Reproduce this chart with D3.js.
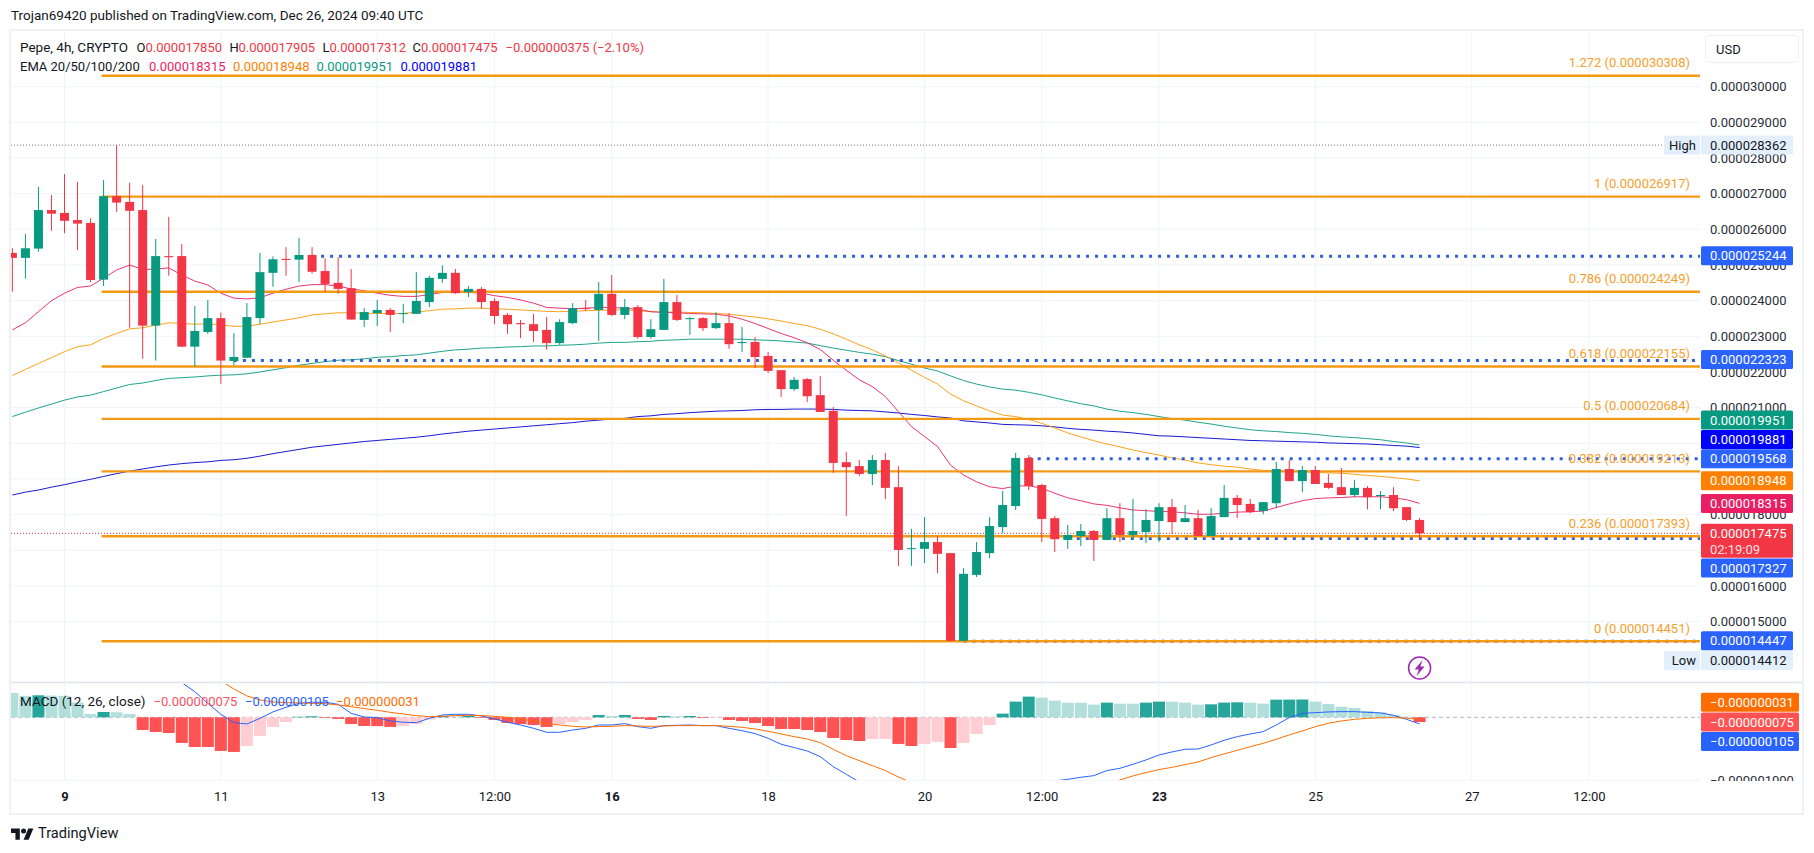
<!DOCTYPE html>
<html>
<head>
<meta charset="utf-8">
<title>Pepe 4h</title>
<script src="https://cdn.jsdelivr.net/npm/d3@7/dist/d3.min.js"></script>
<style>
  html, body { margin: 0; padding: 0; background: #fff; }
  svg { display: block; }
  text { font-family: Roboto, sans-serif; font-size: 13px; fill: #131722; }
</style>
</head>
<body>
<svg id="chart" width="1814" height="853"></svg>
<script>
// prices are in units of 0.000001, macd values in units of 0.000000001
const bars = d3.range(-4, 105);

const opens = [25.34,25.20,25.46,26.54,26.46,26.26,26.18,24.59,26.93,26.77,
  26.54,23.30,25.25,25.25,22.71,23.12,23.51,22.31,22.40,23.51,
  24.78,25.17,25.15,25.28,24.83,24.50,24.35,23.46,23.65,23.74,
  23.63,23.63,23.96,24.61,24.78,24.24,24.33,23.99,23.60,23.37,
  23.34,23.18,22.81,23.37,23.79,23.74,24.19,23.60,23.82,22.98,
  23.18,23.96,23.48,23.51,23.23,23.37,22.81,22.84,22.45,22.05,
  21.52,21.80,21.35,20.91,19.47,19.36,19.14,19.53,18.77,17.04,
  17.04,17.23,16.92,14.46,16.31,16.92,17.65,18.24,19.59,18.83,
  17.90,17.29,17.40,17.54,17.29,17.90,17.43,17.51,17.82,18.21,
  17.79,17.90,17.40,17.93,18.47,18.30,18.10,18.32,19.28,18.94,
  19.25,18.89,18.77,18.55,18.75,18.52,18.55,18.21,17.85];
const closes = [25.20,25.47,26.54,26.44,26.24,26.16,24.58,26.93,26.75,26.52,
  23.30,25.25,25.22,22.71,23.15,23.51,22.32,22.42,23.54,24.80,
  25.16,25.14,25.28,24.81,24.47,24.33,23.47,23.68,23.74,23.60,
  23.65,23.99,24.64,24.78,24.21,24.33,23.96,23.57,23.34,23.34,
  23.15,22.81,23.40,23.79,23.77,24.19,23.60,23.82,22.98,23.20,
  23.96,23.46,23.51,23.23,23.37,22.78,22.84,22.42,22.03,21.52,
  21.78,21.32,20.88,19.45,19.33,19.14,19.53,18.75,17.01,17.06,
  17.23,16.90,14.46,16.34,16.95,17.68,18.27,19.59,18.80,17.88,
  17.31,17.43,17.54,17.29,17.90,17.43,17.54,17.85,18.21,17.79,
  17.90,17.40,17.96,18.47,18.27,18.07,18.35,19.28,18.94,19.25,
  18.86,18.75,18.55,18.75,18.49,18.55,18.18,17.85,17.475];
const highs = [25.47,25.87,27.19,26.96,27.55,27.33,26.31,27.38,28.362,27.31,
  27.24,25.73,26.35,25.59,23.85,24.02,23.67,23.09,23.93,25.34,
  25.24,25.50,25.76,25.50,25.19,25.22,24.89,23.79,24.02,23.79,
  23.91,24.80,24.70,24.99,24.89,24.41,24.38,24.07,23.65,23.46,
  23.63,23.54,23.48,23.93,24.02,24.52,24.72,24.05,23.88,23.48,
  24.61,24.16,23.54,23.54,23.68,23.65,23.26,22.98,22.56,22.05,
  21.86,21.83,21.89,21.02,19.76,19.53,19.67,19.73,19.36,17.60,
  17.93,17.40,16.92,16.50,17.23,17.93,18.66,19.73,19.67,18.86,
  17.96,17.71,17.74,17.57,18.18,18.32,18.44,18.15,18.32,18.44,
  18.27,18.13,18.18,18.83,18.55,18.44,18.35,19.48,19.53,19.36,
  19.36,19.14,19.31,18.97,18.80,18.66,18.77,18.21,17.905];
const lows = [24.25,24.62,25.37,25.96,25.89,25.42,24.52,24.41,26.49,23.24,
  22.37,22.32,24.70,22.70,22.15,23.07,21.67,22.19,22.39,23.34,
  24.39,24.70,24.52,24.76,24.25,24.19,23.47,23.26,23.29,23.12,
  23.37,23.63,23.82,24.50,24.19,24.10,23.77,23.34,23.07,22.95,
  22.84,22.62,22.76,23.34,23.71,22.87,23.57,23.48,22.93,22.93,
  23.18,23.43,23.04,23.15,23.20,22.65,22.56,22.11,21.97,21.30,
  21.47,21.16,20.88,19.17,17.96,19.08,18.83,18.44,16.56,16.56,
  16.64,16.36,14.44,14.46,16.25,16.78,17.48,18.13,18.69,17.23,
  16.95,17.04,17.12,16.70,17.29,17.23,17.31,17.20,17.23,17.46,
  17.79,17.40,17.40,17.93,17.90,18.04,18.01,18.18,18.94,18.63,
  18.86,18.72,18.55,18.49,18.15,18.15,18.10,17.82,17.312];

const ema20 = [23.18,23.38,23.69,24.00,24.21,24.37,24.41,24.63,24.86,25.00,
  24.88,24.88,24.92,24.72,24.55,24.44,24.21,24.07,24.05,24.08,
  24.21,24.32,24.41,24.45,24.45,24.41,24.33,24.28,24.21,24.15,
  24.12,24.12,24.17,24.23,24.23,24.23,24.21,24.14,24.09,24.02,
  23.93,23.81,23.79,23.77,23.79,23.81,23.81,23.79,23.76,23.69,
  23.67,23.66,23.64,23.63,23.62,23.57,23.48,23.36,23.22,23.08,
  22.96,22.82,22.63,22.33,22.05,21.78,21.59,21.31,20.89,20.47,
  20.19,19.91,19.39,19.11,18.92,18.78,18.73,18.80,18.81,18.74,
  18.60,18.47,18.39,18.30,18.26,18.19,18.13,18.11,18.09,18.08,
  18.05,18.01,18.01,18.04,18.07,18.08,18.10,18.20,18.30,18.39,
  18.45,18.47,18.48,18.50,18.50,18.50,18.47,18.42,18.315];
const ema50 = [21.90,22.07,22.24,22.40,22.57,22.71,22.76,22.94,23.08,23.21,
  23.24,23.31,23.38,23.36,23.34,23.35,23.32,23.28,23.28,23.34,
  23.40,23.46,23.52,23.60,23.63,23.66,23.66,23.65,23.64,23.64,
  23.64,23.68,23.72,23.76,23.77,23.79,23.79,23.77,23.76,23.74,
  23.72,23.70,23.69,23.70,23.72,23.73,23.74,23.74,23.72,23.69,
  23.68,23.68,23.67,23.66,23.64,23.62,23.58,23.54,23.49,23.43,
  23.36,23.30,23.20,23.07,22.92,22.76,22.62,22.45,22.26,22.05,
  21.85,21.66,21.38,21.19,21.05,20.91,20.79,20.75,20.67,20.56,
  20.43,20.29,20.18,20.07,19.98,19.90,19.81,19.74,19.67,19.59,
  19.53,19.45,19.40,19.36,19.33,19.28,19.24,19.22,19.21,19.20,
  19.19,19.17,19.16,19.13,19.10,19.07,19.04,19.00,18.948];
const ema100 = [20.75,20.87,20.99,21.10,21.21,21.30,21.35,21.45,21.55,21.65,
  21.69,21.76,21.82,21.84,21.86,21.89,21.91,21.92,21.95,22.00,
  22.06,22.12,22.19,22.24,22.29,22.33,22.34,22.37,22.41,22.43,
  22.46,22.48,22.53,22.58,22.62,22.64,22.67,22.68,22.70,22.71,
  22.73,22.73,22.75,22.76,22.78,22.81,22.83,22.83,22.85,22.86,
  22.89,22.90,22.92,22.92,22.92,22.92,22.92,22.90,22.89,22.87,
  22.84,22.81,22.74,22.67,22.61,22.55,22.50,22.43,22.32,22.22,
  22.11,22.03,21.89,21.76,21.66,21.58,21.52,21.49,21.43,21.36,
  21.27,21.19,21.11,21.05,20.96,20.90,20.86,20.81,20.75,20.69,
  20.65,20.59,20.54,20.48,20.43,20.38,20.35,20.33,20.30,20.28,
  20.25,20.21,20.18,20.16,20.13,20.10,20.05,20.01,19.951];
const ema200 = [18.55,18.63,18.69,18.77,18.84,18.92,18.99,19.07,19.15,19.22,
  19.28,19.34,19.39,19.43,19.46,19.48,19.52,19.54,19.58,19.64,
  19.71,19.77,19.83,19.89,19.93,19.97,20.01,20.05,20.08,20.11,
  20.14,20.17,20.21,20.26,20.30,20.34,20.37,20.40,20.43,20.46,
  20.49,20.52,20.55,20.58,20.62,20.65,20.68,20.70,20.75,20.77,
  20.81,20.83,20.86,20.88,20.90,20.91,20.92,20.94,20.95,20.95,
  20.96,20.96,20.96,20.95,20.93,20.92,20.91,20.88,20.85,20.81,
  20.78,20.74,20.71,20.63,20.60,20.57,20.53,20.52,20.51,20.49,
  20.46,20.42,20.39,20.37,20.34,20.32,20.29,20.25,20.21,20.20,
  20.18,20.16,20.14,20.12,20.10,20.08,20.07,20.06,20.05,20.04,
  20.03,20.01,20.00,19.99,19.98,19.96,19.94,19.92,19.881];

const macdHist = [386,340,349,345,340,235,53,85,80,53,
  -201,-233,-249,-407,-471,-472,-534,-550,-455,-296,
  -153,-74,8,16,-10,-26,-106,-138,-140,-153,
  -138,-106,-37,21,11,26,-11,-42,-90,-106,
  -122,-153,-106,-74,-42,37,21,37,-26,-42,
  21,16,21,-11,-5,-42,-58,-90,-138,-185,
  -186,-201,-233,-328,-360,-376,-344,-343,-423,-455,
  -423,-391,-487,-407,-265,-122,58,249,328,312,
  265,233,232,201,233,217,216,233,249,248,
  233,201,206,233,238,233,217,280,281,282,
  249,212,169,148,100,79,37,10,-75];
const macdLine = [1600,1700,1800,1820,1760,1560,1420,1400,1300,1200,
  1000,850,700,550,407,222,48,-85,-106,-16,
  85,159,222,238,238,206,63,5,-5,-58,
  -79,-85,-16,37,48,48,21,-26,-79,-122,
  -175,-238,-238,-201,-175,-122,-122,-100,-148,-175,
  -132,-127,-122,-132,-132,-175,-212,-259,-333,-428,
  -481,-534,-624,-783,-905,-1026,-1140,-1250,-1370,-1490,
  -1560,-1620,-1820,-1810,-1700,-1560,-1370,-1150,-1030,-1047,
  -1010,-984,-952,-926,-846,-809,-746,-677,-598,-550,
  -508,-503,-439,-365,-307,-265,-227,-122,-5,63,
  74,85,90,90,79,69,32,-32,-105];
const signalLine = [1214,1351,1451,1475,1420,1325,1367,1315,1220,1147,
  1100,1020,950,860,780,699,577,450,339,275,
  243,233,227,222,217,196,169,138,111,79,
  53,26,11,16,26,32,26,16,0,-26,
  -58,-95,-122,-143,-153,-148,-143,-132,-138,-143,
  -138,-132,-132,-132,-132,-143,-159,-185,-222,-265,
  -307,-344,-402,-508,-608,-688,-767,-846,-947,-1037,
  -1130,-1230,-1335,-1400,-1430,-1440,-1430,-1400,-1350,-1310,
  -1260,-1215,-1165,-1110,-1055,-995,-931,-878,-830,-794,
  -751,-709,-640,-582,-524,-466,-413,-349,-280,-217,
  -148,-95,-58,-32,-16,-8,-5,-14,-31];

const fibRatios = ["1.272", "1", "0.786", "0.618", "0.5", "0.382", "0.236", "0"];
const fibPrices = [30.308, 26.917, 24.249, 22.155, 20.684, 19.213, 17.393, 14.451];
const fibStartBar = 3;

const dottedPrices = [25.244, 22.323, 19.568, 17.327, 14.447];
const dottedStartBars = [19, 13, 74, 77, 69];

const priceTicks = d3.range(15, 31);
// 17, 19 and 20 sit fully behind the badges, so they get a grid line but no label
const priceLabelTicks = [15, 16, 18, 21, 22, 23, 24, 25, 26, 27, 28, 29, 30];
const macdTicks = [0, -1000];
const timeTickBars = [0, 12, 24, 33, 42, 54, 66, 75, 84, 96, 108, 117];
const timeTickLabels = ["9", "11", "13", "12:00", "16", "18", "20", "12:00", "23", "25", "27", "12:00"];
const boldTimeLabels = ["9", "16", "23"];

const highPrice = 28.362, lowPrice = 14.412, lastPrice = 17.475;
const countdown = "02:19:09";

const UP = "#089981", DOWN = "#f23645", BLUE = "#2962ff", FIB = "#f39a14", GRID = "#f0f3fa";
const EMA_COLORS = ["#e91e63", "#ff9800", "#089981", "#0000d0"];

const left = 11, right = 1700, axisRight = 1793;
const svg = d3.select("#chart");

const x = d3.scaleLinear().domain([0, 104]).range([64.5, 1419.6]);
const y = d3.scaleLinear().domain([30, 15]).range([86.7, 621.6]);
const yMacd = d3.scaleLinear().domain([0, -1000]).range([717.3, 780.3]);

const priceText = v => (v / 1e6).toFixed(9);
const macdText = v => (v / 1e9).toFixed(9).replace("-", "\u2212");

const defs = svg.append("defs");
defs.append("clipPath").attr("id", "clipMain").append("rect")
  .attr("x", left).attr("y", 31).attr("width", right - left).attr("height", 651);
defs.append("clipPath").attr("id", "clipMacd").append("rect")
  .attr("x", left).attr("y", 684).attr("width", right - left).attr("height", 96);
defs.append("clipPath").attr("id", "clipMacdAxis").append("rect")
  .attr("x", right).attr("y", 684).attr("width", 102).attr("height", 97);

// frame
svg.append("rect").attr("x", 10).attr("y", 30).attr("width", 1793).attr("height", 784)
  .attr("fill", "none").attr("stroke", "#f0f1f4").attr("stroke-width", 2);
svg.append("line").attr("x1", 11).attr("x2", 1802).attr("y1", 682.5).attr("y2", 682.5)
  .attr("stroke", "#e0e3eb").attr("stroke-width", 1.5);

// grid
svg.append("g").selectAll("line").data(timeTickBars).join("line")
  .attr("x1", d => x(d)).attr("x2", d => x(d)).attr("y1", 31).attr("y2", 780)
  .attr("stroke", GRID);
svg.append("g").selectAll("line").data(priceTicks).join("line")
  .attr("x1", left).attr("x2", right).attr("y1", d => y(d)).attr("y2", d => y(d))
  .attr("stroke", GRID);
svg.append("line").attr("x1", left).attr("x2", right)
  .attr("y1", yMacd(-1000)).attr("y2", yMacd(-1000)).attr("stroke", GRID);

// EMAs go under the drawings
const main = svg.append("g").attr("clip-path", "url(#clipMain)");
const emaLine = d3.line().x((d, i) => x(bars[i])).y(d => y(d));
[ema200, ema100, ema50, ema20].forEach((series, i) => {
  main.append("path").attr("d", emaLine(series)).attr("fill", "none")
    .attr("stroke", EMA_COLORS[3 - i]).attr("stroke-opacity", 0.9).attr("stroke-width", 1);
});

// horizontal drawings
dottedPrices.forEach((p, i) => {
  main.append("line").attr("x1", x(dottedStartBars[i])).attr("x2", right)
    .attr("y1", y(p)).attr("y2", y(p))
    .attr("stroke", "#2f60dc").attr("stroke-width", 3).attr("stroke-dasharray", "3 6");
});
main.append("line").attr("x1", left).attr("x2", 1662).attr("y1", y(highPrice)).attr("y2", y(highPrice))
  .attr("stroke", "#787b86").attr("stroke-dasharray", "1 2");
main.append("line").attr("x1", left).attr("x2", right).attr("y1", y(lastPrice)).attr("y2", y(lastPrice))
  .attr("stroke", DOWN).attr("stroke-dasharray", "1 2");
fibPrices.forEach((p, i) => {
  main.append("line").attr("x1", x(fibStartBar) - 2).attr("x2", right)
    .attr("y1", y(p)).attr("y2", y(p)).attr("stroke", FIB).attr("stroke-width", 2.4);
  main.append("text").attr("x", 1690).attr("y", y(p) - 13).attr("dy", "0.35em")
    .attr("text-anchor", "end").style("fill", "#f5a02c")
    .text(`${fibRatios[i]} (${priceText(p)})`);
});

// candles
const candles = main.append("g").selectAll("g").data(bars).join("g")
  .each(function (d, i) {
    const col = closes[i] >= opens[i] ? UP : DOWN;
    const g = d3.select(this);
    g.append("line").attr("x1", x(d)).attr("x2", x(d))
      .attr("y1", y(highs[i])).attr("y2", y(lows[i])).attr("stroke", col);
    const top = y(Math.max(opens[i], closes[i]));
    const bot = y(Math.min(opens[i], closes[i]));
    g.append("rect").attr("x", x(d) - 4.5).attr("width", 9)
      .attr("y", top).attr("height", Math.max(bot - top, 1)).attr("fill", col);
  });

// price axis
const priceAxis = svg.append("g").attr("transform", `translate(${right},0)`)
  .call(d3.axisRight(y).tickValues(priceLabelTicks).tickFormat(priceText).tickSize(0).tickPadding(10));
priceAxis.select(".domain").remove();
priceAxis.selectAll("text").style("font-family", "Roboto, sans-serif").style("font-size", "13px").style("fill", "#2a2e39");

// badges on the price axis, nudged apart so they do not overlap
function badge(value, label, fill, textFill, nudge, width = axisRight - right - 1) {
  const cy = y(value) + nudge;
  svg.append("rect").attr("x", right + 1).attr("y", cy - 9.5).attr("width", width).attr("height", 19)
    .attr("rx", 1.5).attr("fill", fill);
  svg.append("text").attr("x", right + 10).attr("y", cy).attr("dy", "0.35em")
    .style("fill", textFill).text(label);
}
const tagFill = "#e3effd";
badge(highPrice, priceText(highPrice), tagFill, "#131722", 0);
badge(25.244, priceText(25.244), BLUE, "#fff", -0.5);
badge(22.323, priceText(22.323), BLUE, "#fff", -1);
badge(19.951, priceText(19.951), UP, "#fff", -25);
badge(19.881, priceText(19.881), "#0000ff", "#fff", -8);
badge(19.568, priceText(19.568), BLUE, "#fff", 0);
badge(18.948, priceText(18.948), "#ff7f00", "#fff", 0);
badge(18.315, priceText(18.315), "#e91e63", "#fff", 0);
badge(17.327, priceText(17.327), BLUE, "#fff", 29.5);
badge(14.447, priceText(14.447), BLUE, "#fff", -0.5);
badge(lowPrice, priceText(lowPrice), tagFill, "#131722", 18);

// last price tag has the countdown under it
const lastY = y(lastPrice);
svg.append("rect").attr("x", right + 1).attr("y", lastY - 9.5).attr("width", axisRight - right - 1).attr("height", 34)
  .attr("rx", 1.5).attr("fill", DOWN);
svg.append("text").attr("x", right + 10).attr("y", lastY + 0.5).attr("dy", "0.35em")
  .style("fill", "#fff").text(priceText(lastPrice));
svg.append("text").attr("x", right + 10).attr("y", lastY + 16).attr("dy", "0.35em")
  .style("fill", "#fff").style("opacity", 0.85).text(countdown);

// High / Low tags
function sideTag(value, label, nudge) {
  const cy = y(value) + nudge;
  svg.append("rect").attr("x", right - 36).attr("y", cy - 9.5).attr("width", 36).attr("height", 19).attr("fill", tagFill);
  svg.append("text").attr("x", right - 4).attr("y", cy).attr("dy", "0.35em").attr("text-anchor", "end").text(label);
}
sideTag(highPrice, "High", 0);
sideTag(lowPrice, "Low", 18);

// macd pane
const macdPane = svg.append("g").attr("clip-path", "url(#clipMacd)");
macdPane.append("line").attr("x1", left).attr("x2", right).attr("y1", yMacd(0)).attr("y2", yMacd(0))
  .attr("stroke", "#b2b5be").attr("stroke-dasharray", "4 3");
macdPane.append("g").selectAll("rect").data(macdHist).join("rect")
  .attr("x", (d, i) => x(bars[i]) - 6).attr("width", 12)
  .attr("y", d => Math.min(yMacd(d), yMacd(0)))
  .attr("height", d => Math.abs(yMacd(d) - yMacd(0)))
  .attr("fill", (d, i) => {
    const rising = i > 0 && d > macdHist[i - 1];
    if (d >= 0) return rising ? "#26a69a" : "#b2dfdb";
    return rising ? "#ffcdd2" : "#ff5252";
  });
const macdPath = d3.line().x((d, i) => x(bars[i])).y(d => yMacd(d));
macdPane.append("path").attr("d", macdPath(macdLine)).attr("fill", "none").attr("stroke", BLUE).attr("stroke-width", 1);
macdPane.append("path").attr("d", macdPath(signalLine)).attr("fill", "none").attr("stroke", "#ff6d00").attr("stroke-width", 1);

// the clip sits on an untranslated group so its rect stays in page coordinates
const macdAxis = svg.append("g").attr("clip-path", "url(#clipMacdAxis)")
  .append("g").attr("transform", `translate(${right},0)`)
  .call(d3.axisRight(yMacd).tickValues(macdTicks).tickFormat(macdText).tickSize(0).tickPadding(10));
macdAxis.select(".domain").remove();
macdAxis.selectAll("text").style("font-family", "Roboto, sans-serif").style("font-size", "13px").style("fill", "#2a2e39");

function macdBadge(value, fill, nudge) {
  const cy = yMacd(value) + nudge;
  svg.append("rect").attr("x", right + 1).attr("y", cy - 9.5).attr("width", 98).attr("height", 19)
    .attr("rx", 1.5).attr("fill", fill);
  svg.append("text").attr("x", right + 10).attr("y", cy).attr("dy", "0.35em").style("fill", "#fff").text(macdText(value));
}
macdBadge(-31, "#ff6d00", -17);
macdBadge(-75, "#ff5252", 0);
macdBadge(-105, BLUE, 17.5);

// time axis
const timeAxis = svg.append("g").attr("transform", "translate(0,789)")
  .call(d3.axisBottom(x).tickValues(timeTickBars).tickSize(0).tickPadding(3)
    .tickFormat((d, i) => timeTickLabels[i]));
timeAxis.select(".domain").remove();
timeAxis.selectAll("text").style("font-family", "Roboto, sans-serif").style("font-size", "13px")
  .style("font-weight", (d, i) => boldTimeLabels.includes(timeTickLabels[i]) ? 700 : 400);

// legends
function textRun(py, runs) {
  runs.forEach(([px, label, col, size]) => {
    const t = svg.append("text").attr("x", px).attr("y", py).attr("dy", "0.35em").style("fill", col).text(label);
    if (size) t.style("font-size", size + "px");
  });
}
const ink = "#131722";
textRun(15, [[11, "Trojan69420 published on TradingView.com, Dec 26, 2024 09:40 UTC", ink, 13.5]]);
textRun(47, [[20, "Pepe, 4h, CRYPTO", ink, 13.5],
  [136.5, "O", ink], [145.5, priceText(opens[108]), DOWN],
  [229.5, "H", ink], [238.5, priceText(highs[108]), DOWN],
  [322.5, "L", ink], [329.5, priceText(lows[108]), DOWN],
  [412.5, "C", ink], [421, priceText(closes[108]), DOWN],
  [505.5, "\u22120.000000375 (\u22122.10%)", DOWN]]);
textRun(66, [[20, "EMA 20/50/100/200", ink],
  [149, priceText(ema20[108]), EMA_COLORS[0]],
  [233, priceText(ema50[108]), "#ff7f00"],
  [316.5, priceText(ema100[108]), EMA_COLORS[2]],
  [400.5, priceText(ema200[108]), "#0000ff"]]);
textRun(701, [[20, "MACD (12, 26, close)", ink, 13.5],
  [153.5, macdText(macdHist[108]), "#f7525f"],
  [245, macdText(macdLine[108]), BLUE],
  [336, macdText(signalLine[108]), "#ff6d00"]]);

// currency button
svg.append("rect").attr("x", 1705.5).attr("y", 35.5).attr("width", 93).attr("height", 27).attr("rx", 4)
  .attr("fill", "#fff").attr("stroke", "#eceef3");
textRun(49, [[1716, "USD", ink]]);

// news icon at the last bar
const icon = svg.append("g").attr("transform", `translate(${x(104)},668)`);
icon.append("circle").attr("r", 11).attr("fill", "#fff").attr("stroke", "#9c27b0").attr("stroke-width", 1.5);
icon.append("path").attr("d", "M3-8L-5 1.5H-0.7L-3 8L5-1.5H0.7Z").attr("fill", "#9c27b0");

// logo
const logo = svg.append("g").attr("transform", "translate(11,826) scale(0.63)");
logo.append("path").attr("d", "M14 22H7V11H0V4h14v18zM28 22h-8l7.5-18h8L28 22z").attr("fill", ink);
logo.append("circle").attr("cx", 20).attr("cy", 8).attr("r", 4).attr("fill", ink);
svg.append("text").attr("x", 38).attr("y", 833).attr("dy", "0.35em").style("font-size", "14.6px").text("TradingView");
</script>
</body>
</html>
